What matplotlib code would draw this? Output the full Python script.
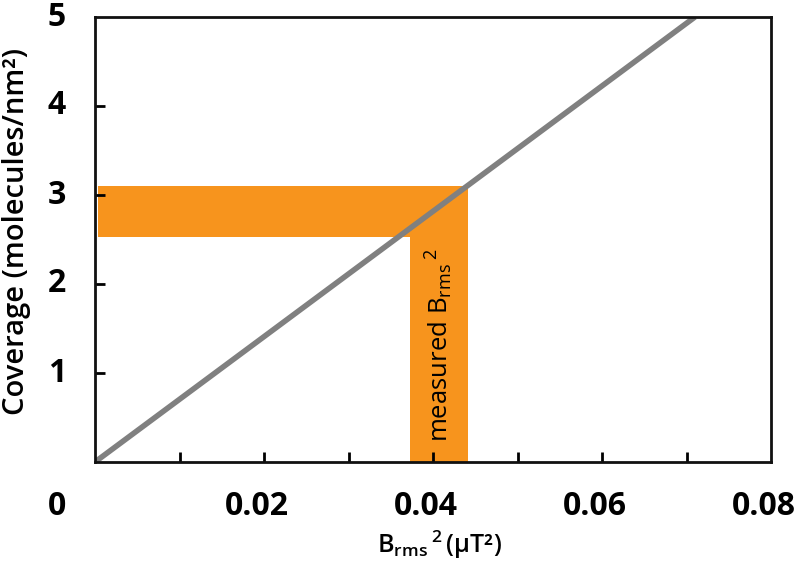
import matplotlib
matplotlib.use("Agg")
import matplotlib.pyplot as plt
from matplotlib.patches import Rectangle

# Data
line_x = [0.0, 0.0710]
line_y = [0.0, 5.0]
band_y_low, band_y_high = 2.53, 3.10      # coverage band
band_x_low, band_x_high = 0.0373, 0.0441  # measured B_rms^2 band
xtick_major = [0.02, 0.04, 0.06, 0.08]
xtick_minor = [0.01, 0.02, 0.03, 0.04, 0.05, 0.06, 0.07]
ytick_vals = [1, 2, 3, 4, 5]

orange = "#F7941D"
gray = "#808080"

plt.rcParams['font.family'] = ['Open Sans', 'DejaVu Sans']
plt.rcParams['mathtext.fontset'] = 'custom'
plt.rcParams['mathtext.rm'] = 'Open Sans'
plt.rcParams['mathtext.it'] = 'Open Sans'
plt.rcParams['mathtext.bf'] = 'Open Sans:semibold'

fig = plt.figure(figsize=(8.0, 5.64), dpi=100)
ax = fig.add_axes([95/800, 1 - 462/564, (771-95)/800, (462-17)/564])

ax.set_xlim(0, 0.08)
ax.set_ylim(0, 5)

# orange bands
ax.add_patch(Rectangle((0.0004, band_y_low), band_x_high - 0.0004, band_y_high - band_y_low,
                       facecolor=orange, edgecolor='none', zorder=1))
ax.add_patch(Rectangle((band_x_low, 0), band_x_high - band_x_low, band_y_high,
                       facecolor=orange, edgecolor='none', zorder=1))

ax.plot(line_x, line_y, color=gray, lw=4, solid_capstyle='butt', zorder=2)

ax.text((band_x_low + band_x_high) / 2 + 0.0001, 1.31, r'measured B$_{\mathrm{rms}}\,{}^{2}$',
        rotation=90, ha='center', va='center', fontsize=18.5, color='black', zorder=3)

for s in ax.spines.values():
    s.set_linewidth(2)
    s.set_color('#111111')

ax.set_xticks(xtick_minor)
ax.set_xticklabels([])
ax.tick_params(axis='x', direction='in', length=7, width=2, labelbottom=False)
ax.set_yticks(ytick_vals[:-1])
ax.set_yticklabels([])
ax.tick_params(axis='y', direction='in', length=7, width=2, labelleft=False)

for v in xtick_major:
    ax.text(v - 0.0008, -0.31, f"{v:.2f}", ha='center', va='top', fontsize=23,
            fontweight='bold', clip_on=False)
ax.text(-0.0045, -0.31, "0", ha='center', va='top', fontsize=23, fontweight='bold', clip_on=False)
for v in ytick_vals:
    ax.text(-0.0045, v, str(v), ha='center', va='center', fontsize=23, fontweight='bold', clip_on=False)

fig.text(439/800, 1 - 545/564, r'$\mathbf{B}_{\mathbf{rms}}\,{}^{\mathbf{2}}\,$(μT²)', ha='center', va='center',
         fontsize=18, fontweight='semibold')
fig.text(17/800, 1 - 232/564, 'Coverage (molecules/nm²)', rotation=90, ha='center', va='center',
         fontsize=21, fontweight='semibold')

fig.savefig('out.png', dpi=100)
